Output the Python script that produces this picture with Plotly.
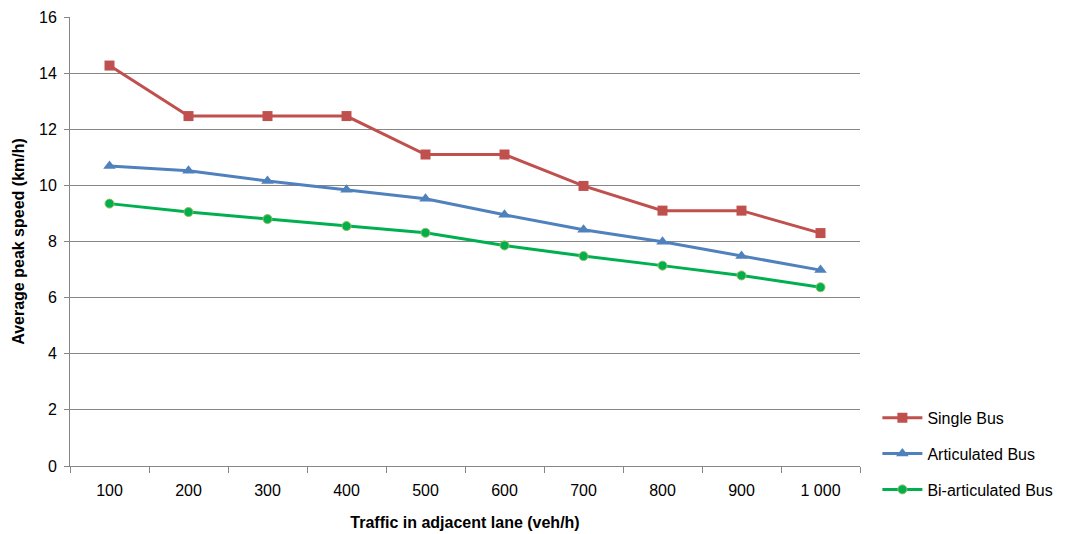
import plotly.graph_objects as go

categories = ["100", "200", "300", "400", "500", "600", "700", "800", "900", "1 000"]
single_bus = [14.27, 12.47, 12.47, 12.47, 11.1, 11.1, 9.98, 9.1, 9.1, 8.3]
articulated_bus = [10.69, 10.52, 10.16, 9.84, 9.52, 8.95, 8.42, 7.99, 7.48, 6.98]
bi_articulated_bus = [9.35, 9.05, 8.8, 8.55, 8.31, 7.86, 7.48, 7.14, 6.79, 6.37]
y_ticks = [0, 2, 4, 6, 8, 10, 12, 14, 16]

font_family = "Liberation Sans Narrow, Liberation Sans, Arial"

fig = go.Figure()
fig.add_trace(go.Scatter(x=categories, y=single_bus, name="Single Bus", mode="lines+markers",
                         line=dict(color="#C0504D", width=3),
                         marker=dict(symbol="square", size=10, color="#C0504D"),
                         legendgroup="a"))
fig.add_trace(go.Scatter(x=categories, y=articulated_bus, name="Articulated Bus", mode="lines+markers",
                         line=dict(color="#4F81BD", width=3),
                         marker=dict(symbol="triangle-up", size=11, color="#4F81BD"),
                         legendgroup="b"))
fig.add_trace(go.Scatter(x=categories, y=bi_articulated_bus, name="Bi-articulated Bus", mode="lines+markers",
                         line=dict(color="#00B050", width=3),
                         marker=dict(symbol="circle", size=9, color="#00B050",
                                     line=dict(color="#9BBB59", width=1)),
                         legendgroup="c"))

fig.update_layout(
    width=1080, height=534,
    margin=dict(l=70, r=220, t=17, b=68),
    paper_bgcolor="white", plot_bgcolor="white",
    font=dict(family=font_family, size=16, color="#000000"),
    showlegend=True,
    legend=dict(x=1.022, xanchor="left", y=0.027, yanchor="middle",
                font=dict(size=16, family=font_family),
                traceorder="grouped", tracegroupgap=12,
                itemwidth=40,
                bgcolor="rgba(0,0,0,0)"),
    xaxis=dict(
        type="category",
        tickson="boundaries",
        ticks="outside", ticklen=6, tickcolor="#868686",
        showline=True, linecolor="#868686", linewidth=1,
        showgrid=False,
        tickfont=dict(size=16),
        ticklabelstandoff=10,
        title=dict(text="<b>Traffic in adjacent lane (veh/h)</b>", font=dict(size=16), standoff=18),
        range=[-0.5, 9.5],
    ),
    yaxis=dict(
        range=[0, 16], tickvals=y_ticks,
        ticks="outside", ticklen=5, tickcolor="#868686",
        showline=True, linecolor="#868686", linewidth=1,
        showgrid=True, gridcolor="#868686", gridwidth=1,
        zeroline=False,
        tickfont=dict(size=16),
        ticklabelstandoff=4,
        title=dict(text="<b>Average peak speed (km/h)</b>", font=dict(size=16), standoff=10),
    ),
)
fig.update_xaxes(automargin=False)
fig.update_yaxes(automargin=False)

fig.write_html("out.html")
